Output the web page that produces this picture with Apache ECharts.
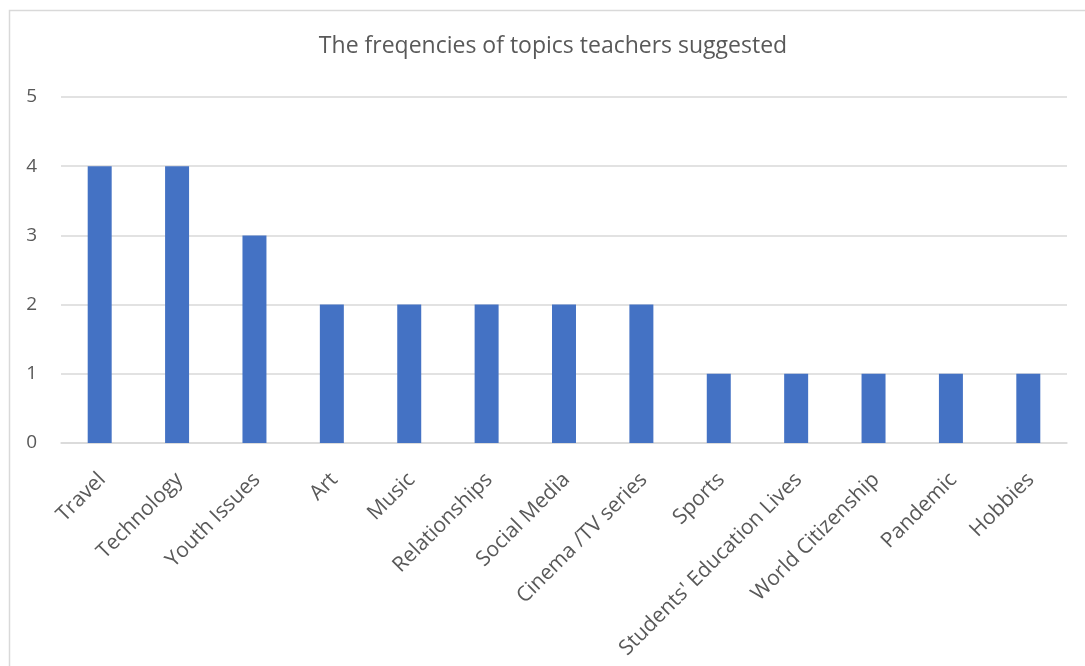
<!DOCTYPE html>
<html>
<head>
<meta charset="utf-8">
<script src="https://cdn.jsdelivr.net/npm/echarts@6/dist/echarts.min.js"></script>
<style>
  html, body { margin: 0; padding: 0; background: #ffffff; }
  #chart { width: 1085px; height: 666px; }
</style>
</head>
<body>
<div id="chart"></div>
<script>
// Topics suggested by teachers and how often each came up
const topics = [
  'Travel', 'Technology', 'Youth Issues', 'Art', 'Music', 'Relationships',
  'Social Media', 'Cinema /TV series', 'Sports', "Students' Education Lives",
  'World Citizenship', 'Pandemic', 'Hobbies'
];
const frequencies = [4, 4, 3, 2, 2, 2, 2, 2, 1, 1, 1, 1, 1];
const titleText = 'The freqencies of topics teachers suggested';

const FONT = '"Open Sans", "Noto Sans", sans-serif';
const TEXT = '#595959';
const GRID_LINE = '#d9d9d9';

const chart = echarts.init(document.getElementById('chart'), null, { renderer: 'canvas' });

chart.setOption({
  animation: false,
  backgroundColor: '#ffffff',
  textStyle: { fontFamily: FONT },
  title: {
    text: titleText,
    left: 548,
    textAlign: 'center',
    top: 30,
    textStyle: { color: TEXT, fontFamily: FONT, fontSize: 23, fontWeight: 'normal' }
  },
  graphic: [{
    // outer frame of the chart area
    type: 'rect',
    silent: true,
    shape: { x: 9.5, y: 10.5, width: 1200, height: 800 },
    style: { fill: 'none', stroke: GRID_LINE, lineWidth: 1.5 }
  }],
  grid: { left: 61, right: 18, top: 97, bottom: 223, containLabel: false },
  xAxis: {
    type: 'category',
    data: topics,
    axisLine: { show: true, lineStyle: { color: GRID_LINE, width: 1.5 } },
    axisTick: { show: false },
    axisLabel: {
      rotate: 45,
      interval: 0,
      margin: 21,
      align: 'right',
      verticalAlign: 'top',
      padding: [0, 7, 0, 0],
      color: TEXT,
      fontFamily: FONT,
      fontSize: 21
    }
  },
  yAxis: {
    type: 'value',
    min: 0,
    max: 5,
    interval: 1,
    axisLine: { show: false },
    axisTick: { show: false },
    axisLabel: { color: TEXT, fontFamily: FONT, fontSize: 19, margin: 24 },
    splitLine: { show: true, lineStyle: { color: GRID_LINE, width: 1.5 } }
  },
  series: [{
    type: 'bar',
    data: frequencies,
    barWidth: '31%',
    itemStyle: { color: '#4472c4' }
  }]
});
</script>
</body>
</html>
